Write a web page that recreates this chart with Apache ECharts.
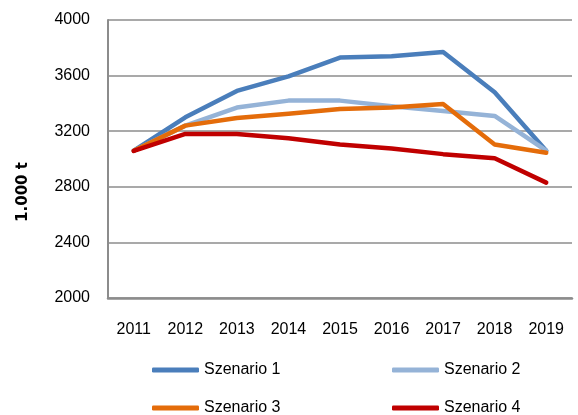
<!DOCTYPE html>
<html>
<head>
<meta charset="utf-8">
<script src="https://cdn.jsdelivr.net/npm/echarts@6/dist/echarts.min.js"></script>
<style>
html,body{margin:0;padding:0;background:#fff;}
#chart{width:578px;height:415px;}
</style>
</head>
<body>
<div id="chart"></div>
<script>
var years = ['2011','2012','2013','2014','2015','2016','2017','2018','2019'];
var szenario1 = [3060, 3300, 3490, 3595, 3730, 3740, 3770, 3480, 3060];
var szenario2 = [3060, 3240, 3370, 3420, 3420, 3380, 3345, 3310, 3060];
var szenario3 = [3060, 3240, 3295, 3325, 3360, 3370, 3395, 3105, 3045];
var szenario4 = [3058, 3180, 3180, 3150, 3105, 3075, 3035, 3005, 2830];
var seriesNames = ['Szenario 1','Szenario 2','Szenario 3','Szenario 4'];
var yTicks = {min: 2000, max: 4000, interval: 400};

var colors = ['#4a7ebb', '#95b3d7', '#e46c0a', '#c00000'];
var font = "'Liberation Sans', Arial, sans-serif";
var chart = echarts.init(document.getElementById('chart'));

function mkLegend(name, left, top) {
  return {
    data: [name], left: left, top: top, padding: 0,
    icon: 'roundRect', itemWidth: 47, itemHeight: 5,
    textStyle: {fontFamily: font, fontSize: 16, color: '#000'}
  };
}
var allData = [szenario1, szenario2, szenario3, szenario4];

chart.setOption({
  animation: false,
  color: colors,
  grid: {left: 108, right: 6, top: 20, bottom: 117, containLabel: false},
  legend: [
    mkLegend(seriesNames[0], 152, 362),
    mkLegend(seriesNames[1], 392, 362),
    mkLegend(seriesNames[2], 152, 400),
    mkLegend(seriesNames[3], 392, 400)
  ],
  xAxis: {
    type: 'category', data: years, boundaryGap: true,
    axisLine: {lineStyle: {color: '#8c8c8c', width: 2.5}},
    axisTick: {show: false},
    axisLabel: {fontFamily: font, fontSize: 16, color: '#000', margin: 24, interval: 0}
  },
  yAxis: {
    type: 'value', min: yTicks.min, max: yTicks.max, interval: yTicks.interval,
    name: '1.000 t', nameLocation: 'middle', nameGap: 77,
    nameTextStyle: {fontFamily: "'DejaVu Sans', sans-serif", fontWeight: 'bold', fontSize: 15, color: '#000',
      padding: [0, 66, 0, 0]},
    axisLine: {show: true, lineStyle: {color: '#8c8c8c', width: 2}},
    axisTick: {show: false},
    splitLine: {lineStyle: {color: '#8c8c8c', width: 1.5}},
    axisLabel: {fontFamily: font, fontSize: 16, color: '#000', margin: 18,
      formatter: function (v) { return String(v); }}
  },
  series: allData.map(function (d, i) {
    return {
      name: seriesNames[i], type: 'line', data: d, symbol: 'none',
      lineStyle: {width: 4.5, cap: 'round', join: 'round'}
    };
  })
});
</script>
</body>
</html>
